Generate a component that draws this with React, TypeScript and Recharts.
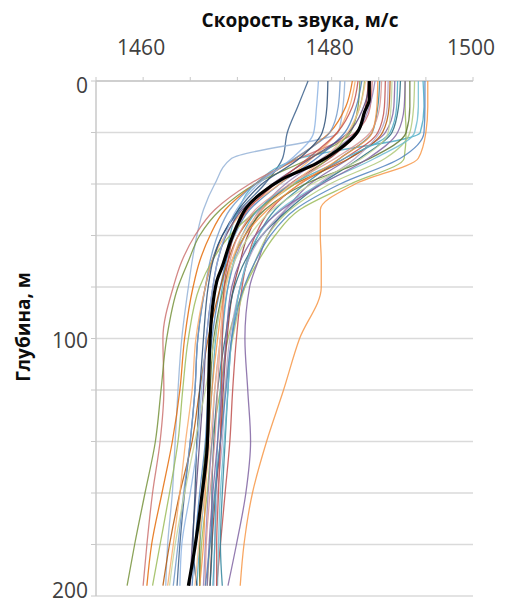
import { ScatterChart, Scatter, XAxis, YAxis, CartesianGrid, Label } from "recharts";

// depth of every profile sample, m
const DEPTHS = [0, 10, 20, 30, 40, 50, 60, 70, 80, 100, 120, 140, 160, 180, 196];

// individual sound speed profiles, m/s
const P01 = [1477.5, 1476.4, 1475.3, 1474.8, 1472.9, 1470.3, 1468.4, 1467.3, 1466.6, 1465.8, 1465.5, 1465.0, 1464.4, 1463.9, 1463.6];
const P02 = [1490.2, 1490.2, 1490.0, 1489.2, 1482.5, 1478.8, 1478.8, 1478.9, 1478.9, 1476.6, 1474.9, 1473.1, 1471.6, 1470.7, 1470.3];
const P03 = [1487.8, 1487.8, 1487.9, 1487.7, 1482.0, 1476.6, 1474.0, 1472.2, 1470.8, 1469.0, 1468.2, 1467.3, 1466.8, 1466.2, 1466.0];
const P04 = [1489.7, 1489.8, 1489.4, 1476.6, 1471.9, 1470.1, 1469.2, 1468.8, 1468.4, 1467.7, 1467.3, 1466.9, 1466.5, 1466.0, 1465.7];
const P05 = [1481.4, 1481.2, 1480.7, 1469.4, 1467.6, 1466.4, 1465.7, 1465.2, 1464.8, 1464.1, 1463.7, 1463.4, 1463.1, 1462.6, 1462.4];
const P06 = [1484.3, 1484.1, 1482.5, 1476.6, 1471.3, 1467.6, 1465.5, 1464.1, 1463.2, 1462.1, 1462.2, 1461.8, 1461.0, 1460.4, 1460.0];
const P07 = [1483.0, 1482.8, 1482.0, 1477.7, 1471.9, 1468.2, 1466.0, 1464.8, 1463.7, 1462.5, 1461.9, 1461.3, 1460.2, 1459.1, 1458.3];
const P08 = [1486.7, 1486.6, 1485.7, 1481.9, 1477.7, 1475.1, 1473.2, 1472.2, 1471.3, 1470.8, 1471.1, 1471.4, 1470.9, 1469.9, 1469.0];
const P09 = [1483.2, 1482.6, 1481.4, 1478.4, 1474.5, 1471.3, 1469.7, 1468.8, 1468.2, 1467.3, 1466.9, 1466.6, 1466.0, 1465.5, 1465.2];
const P10 = [1485.7, 1485.6, 1484.9, 1481.4, 1476.6, 1473.5, 1471.9, 1471.0, 1470.5, 1469.9, 1469.5, 1469.2, 1468.7, 1468.2, 1467.8];
const P11 = [1482.2, 1481.5, 1479.8, 1476.2, 1471.9, 1468.7, 1467.1, 1466.0, 1465.3, 1464.4, 1463.9, 1463.1, 1462.0, 1460.9, 1460.4];
const P12 = [1485.1, 1484.9, 1484.3, 1480.9, 1477.2, 1474.0, 1472.2, 1471.1, 1470.3, 1469.4, 1469.0, 1468.7, 1468.4, 1468.2, 1468.4];
const P13 = [1488.8, 1488.7, 1488.3, 1485.7, 1479.8, 1475.6, 1473.2, 1471.9, 1470.8, 1469.5, 1468.7, 1468.2, 1467.6, 1467.1, 1466.8];
const P14 = [1484.6, 1484.0, 1482.6, 1479.0, 1475.1, 1472.4, 1470.8, 1469.7, 1469.0, 1468.2, 1467.6, 1467.3, 1466.9, 1466.6, 1466.4];
const P15 = [1483.9, 1483.6, 1482.8, 1479.8, 1475.6, 1472.6, 1471.1, 1470.3, 1469.6, 1468.9, 1468.5, 1468.2, 1467.7, 1467.3, 1467.1];
const P16 = [1486.2, 1486.1, 1485.4, 1481.9, 1476.1, 1472.2, 1470.1, 1469.0, 1468.2, 1466.9, 1466.0, 1465.2, 1463.9, 1462.8, 1462.1];
const P17 = [1487.3, 1487.1, 1486.4, 1483.0, 1478.8, 1475.4, 1472.6, 1470.8, 1469.7, 1468.7, 1467.9, 1467.5, 1467.3, 1467.3, 1467.1];
const P18 = [1480.9, 1480.7, 1479.8, 1476.1, 1471.9, 1469.2, 1467.9, 1467.1, 1466.6, 1465.8, 1465.5, 1465.0, 1464.3, 1463.7, 1463.2];
const P19 = [1483.5, 1483.0, 1481.8, 1479.6, 1476.1, 1472.2, 1469.2, 1467.3, 1466.0, 1464.8, 1464.2, 1463.7, 1462.8, 1461.8, 1461.0];
const P20 = [1486.0, 1485.9, 1485.1, 1482.5, 1478.6, 1475.1, 1472.6, 1471.1, 1470.3, 1469.2, 1468.7, 1468.4, 1467.9, 1467.6, 1467.5];
const P21 = [1482.5, 1481.9, 1480.6, 1477.9, 1474.5, 1470.8, 1468.7, 1467.3, 1466.6, 1465.6, 1465.2, 1464.5, 1463.9, 1463.2, 1462.6];
const P22 = [1489.2, 1489.2, 1488.8, 1484.6, 1478.8, 1474.5, 1472.2, 1471.0, 1470.3, 1469.4, 1469.0, 1468.6, 1468.2, 1468.0, 1467.9];
const P23 = [1485.3, 1485.1, 1484.1, 1480.4, 1475.6, 1471.9, 1470.1, 1469.2, 1468.7, 1468.2, 1467.9, 1467.6, 1467.1, 1466.7, 1466.6];
const P24 = [1484.1, 1483.4, 1481.8, 1477.8, 1473.7, 1470.5, 1468.8, 1467.9, 1467.4, 1466.7, 1466.4, 1466.0, 1465.6, 1465.2, 1465.0];
const P25 = [1488.3, 1488.3, 1487.9, 1484.1, 1477.2, 1472.9, 1470.8, 1469.4, 1468.6, 1467.5, 1467.1, 1466.7, 1466.2, 1466.0, 1466.0];
const P26 = [1479.6, 1479.5, 1479.0, 1476.6, 1472.6, 1470.1, 1468.4, 1467.4, 1466.9, 1466.4, 1466.0, 1465.7, 1465.5, 1465.3, 1465.7];
const P27 = [1487.0, 1486.9, 1486.2, 1481.4, 1475.8, 1472.2, 1470.5, 1469.6, 1469.0, 1468.4, 1468.2, 1467.9, 1467.7, 1467.6, 1467.4];
const P28 = [1484.9, 1484.8, 1484.3, 1480.9, 1476.6, 1473.2, 1470.8, 1469.4, 1468.7, 1467.9, 1467.3, 1466.9, 1466.6, 1466.4, 1466.0];
const P29 = [1486.4, 1486.3, 1486.0, 1483.2, 1477.9, 1473.7, 1471.3, 1469.7, 1468.7, 1467.6, 1466.6, 1465.5, 1464.4, 1463.4, 1462.8];
const P30 = [1478.6, 1478.4, 1478.1, 1475.8, 1472.2, 1469.9, 1468.7, 1467.9, 1467.4, 1466.7, 1466.2, 1465.8, 1465.0, 1464.1, 1463.9];
const P31 = [1482.8, 1482.2, 1480.6, 1477.5, 1474.0, 1471.1, 1469.6, 1469.0, 1468.6, 1468.4, 1468.3, 1468.2, 1468.0, 1467.8, 1467.8];
const P32 = [1487.8, 1487.7, 1487.0, 1483.9, 1479.0, 1474.7, 1471.9, 1470.3, 1469.4, 1468.8, 1468.4, 1467.9, 1467.4, 1467.0, 1466.8];
const P33 = [1489.9, 1489.9, 1489.8, 1487.3, 1480.9, 1476.1, 1473.5, 1471.9, 1470.7, 1469.4, 1468.8, 1468.2, 1467.6, 1467.1, 1466.6];
const P34 = [1483.6, 1483.0, 1481.7, 1479.2, 1475.8, 1472.6, 1470.5, 1469.4, 1468.8, 1468.2, 1467.6, 1467.1, 1466.5, 1465.9, 1465.5];

// averaged profile (thick black line)
const MEAN_DEPTHS = [0, 7, 12, 20, 27, 32, 38, 44, 49, 55, 63, 72, 78, 100, 142, 162, 181, 196];
const MEAN_SPEED = [1484.0, 1484.0, 1483.5, 1482.7, 1480.6, 1478.4, 1474.8, 1472.4, 1471.0, 1470.1, 1469.2, 1468.4, 1467.8, 1467.1, 1466.8, 1466.2, 1465.5, 1464.8];

const X_TICKS = [1455, 1460, 1465, 1470, 1475, 1480, 1485, 1490, 1495];
const X_LABELS: Record<number, string> = { 1460: "1460", 1480: "1480", 1495: "1500" };
const Y_TICKS = [0, 20, 40, 60, 80, 100, 120, 140, 160, 180, 200];
const Y_LABELS = [0, 100, 200];

const PROFILES = [
  { speed: P01, color: "#3A5F8B" }, { speed: P02, color: "#F79646" },
  { speed: P03, color: "#9BBB59" }, { speed: P04, color: "#4BACC6" },
  { speed: P05, color: "#95B3D7" }, { speed: P06, color: "#CD7371" },
  { speed: P07, color: "#77933C" }, { speed: P08, color: "#8064A2" },
  { speed: P09, color: "#4F81BD" }, { speed: P10, color: "#C0504D" },
  { speed: P11, color: "#E46C0A" }, { speed: P12, color: "#31859C" },
  { speed: P13, color: "#AFC97A" }, { speed: P14, color: "#9983B5" },
  { speed: P15, color: "#953735" }, { speed: P16, color: "#B65708" },
  { speed: P17, color: "#276A7C" }, { speed: P18, color: "#729ACA" },
  { speed: P19, color: "#9BBB59" }, { speed: P20, color: "#B3A2C7" },
  { speed: P21, color: "#F9AB6B" }, { speed: P22, color: "#6FBDD1" },
  { speed: P23, color: "#D99694" }, { speed: P24, color: "#604A7B" },
  { speed: P25, color: "#5F7530" }, { speed: P26, color: "#2C4D75" },
  { speed: P27, color: "#4BACC6" }, { speed: P28, color: "#F79646" },
  { speed: P29, color: "#C3D69B" }, { speed: P30, color: "#8EB4E3" },
  { speed: P31, color: "#C0504D" }, { speed: P32, color: "#8064A2" },
  { speed: P33, color: "#4F81BD" }, { speed: P34, color: "#FAC090" },
];

const FONT = "'Open Sans', 'Liberation Sans', sans-serif";

const NoDot = () => <g />;

const XTick = ({ x, payload }: any) => {
  const label = X_LABELS[payload.value];
  if (!label) return <g />;
  return (
    <text x={x - 2} y={55} textAnchor="middle" fontSize={21} fill="#404040" fontFamily={FONT}>
      {label}
    </text>
  );
};

const YTick = ({ y, payload }: any) => {
  if (!Y_LABELS.includes(payload.value)) return <g />;
  // keep the bottom label inside the picture
  const base = Math.min(y + 9, 598);
  return (
    <text x={88} y={payload.value === 0 ? y + 12 : base} textAnchor="end" fontSize={21} fill="#404040" fontFamily={FONT}>
      {payload.value}
    </text>
  );
};

export default function App() {
  const meanData = MEAN_DEPTHS.map((d, i) => ({ d, v: MEAN_SPEED[i] }));

  return (
    <div style={{ position: "absolute", left: 0, top: 0, background: "#fff" }}>
      <ScatterChart width={505} height={603} margin={{ top: 0, right: 32, bottom: 7, left: 0 }}>
        <CartesianGrid vertical={false} stroke="#dadada" strokeWidth={1.5} />
        <XAxis
          type="number"
          dataKey="v"
          orientation="top"
          domain={[1455, 1495]}
          ticks={X_TICKS}
          height={81}
          allowDataOverflow
          axisLine={{ stroke: "#c8c8c8", strokeWidth: 1.5 }}
          tickLine={{ stroke: "#c8c8c8" }}
          tickSize={4}
          tick={<XTick />}
        >
          <Label
            content={() => (
              <text x={300} y={27} textAnchor="middle" fontSize={19} fontWeight="bold" fill="#0d0d0d" fontFamily={FONT}>
                Скорость звука, м/с
              </text>
            )}
          />
        </XAxis>
        <YAxis
          type="number"
          dataKey="d"
          reversed
          domain={[0, 200]}
          ticks={Y_TICKS}
          width={96}
          axisLine={{ stroke: "#c8c8c8", strokeWidth: 1.5 }}
          tickLine={{ stroke: "#c8c8c8" }}
          tickSize={5}
          tick={<YTick />}
        >
          <Label
            content={() => (
              <text
                x={30}
                y={327}
                transform="rotate(-90 30 327)"
                textAnchor="middle"
                fontSize={19}
                fontWeight="bold"
                fill="#0d0d0d"
                fontFamily={FONT}
              >
                Глубина, м
              </text>
            )}
          />
        </YAxis>
        {PROFILES.map((p, k) => (
          <Scatter
            key={k}
            data={DEPTHS.map((d, i) => ({ d, v: p.speed[i] }))}
            fill={p.color}
            line={{ stroke: p.color, strokeWidth: 1.3, strokeOpacity: 0.85 }}
            lineJointType="monotoneY"
            shape={<NoDot />}
            legendType="none"
            isAnimationActive={false}
          />
        ))}
        <Scatter
          data={meanData}
          fill="#000"
          line={{ stroke: "#000", strokeWidth: 3.2 }}
          lineJointType="monotoneY"
          shape={<NoDot />}
          legendType="none"
          isAnimationActive={false}
        />
      </ScatterChart>
    </div>
  );
}
